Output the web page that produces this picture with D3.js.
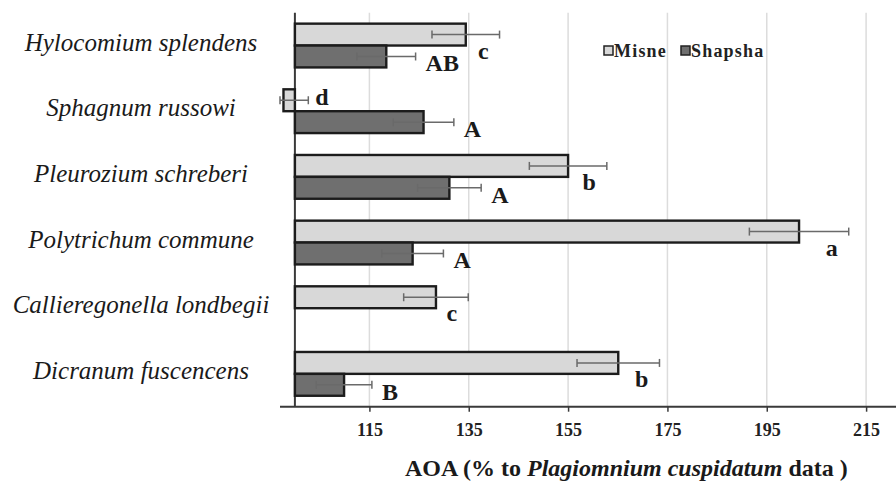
<!DOCTYPE html>
<html>
<head>
<meta charset="utf-8">
<script src="https://cdn.jsdelivr.net/npm/d3@7"></script>
<style>
  html, body { margin: 0; padding: 0; background: #fff; }
  svg { display: block; }
</style>
</head>
<body>
<svg id="chart" width="896" height="481"></svg>
<script>
// ---- data ----
const categories = [
  "Hylocomium splendens",
  "Sphagnum russowi",
  "Pleurozium schreberi",
  "Polytrichum commune",
  "Callieregonella londbegii",
  "Dicranum fuscencens"
];
const seriesNames = ["Misne", "Shapsha"];
const misneValues   = [134.4, 97.7, 155.0, 201.5, 128.4, 165.1];
const misneErrors   = [6.8, 5.0, 7.8, 10.0, 6.5, 8.3];
const misneLetters  = ["c", "d", "b", "a", "c", "b"];
const shapshaValues = [118.4, 125.9, 131.1, 123.7, null, 109.9];
const shapshaErrors = [5.9, 6.1, 6.4, 6.2, null, 5.6];
const shapshaLetters = ["AB", "A", "A", "A", "", "B"];
const tickValues = [115, 135, 155, 175, 195, 215];
const axisCross = 100;
const axisDomain = [97, 222];

// ---- layout ----
const svg = d3.select("#chart");
const plot = { left: 280, right: 896, top: 12.7, bottom: 406.7 };
const serif = "'Liberation Serif', 'Times New Roman', serif";

const x = d3.scaleLinear().domain(axisDomain).range([plot.left, plot.left + (axisDomain[1] - axisDomain[0]) * 4.967]);
const y = d3.scaleBand().domain(categories).range([plot.top, plot.bottom]).paddingInner(1/3).paddingOuter(1/6);
const ys = d3.scaleBand().domain(seriesNames).range([0, y.bandwidth()]);

const fills = { Misne: "#d8d8d8", Shapsha: "#6f6f6f" };

// gridlines
svg.append("g").selectAll("line").data(tickValues).join("line")
  .attr("x1", d => x(d)).attr("x2", d => x(d))
  .attr("y1", plot.top).attr("y2", plot.bottom)
  .attr("stroke", "#dcdcdc").attr("stroke-width", 1.5);

// x axis
const xAxis = d3.axisBottom(x).tickValues(tickValues).tickSize(5).tickFormat(d3.format("d"));
const gx = svg.append("g").attr("transform", `translate(0,${plot.bottom})`).call(xAxis);
gx.select(".domain").remove();
gx.append("line").attr("x1", plot.left).attr("x2", plot.right).attr("y1", 0).attr("y2", 0)
  .attr("stroke", "#3a3a3a").attr("stroke-width", 2);
gx.selectAll(".tick line").attr("stroke", "#3a3a3a").attr("stroke-width", 1.5);
gx.selectAll(".tick text")
  .attr("y", 29).attr("dy", 0)
  .attr("fill", "#222")
  .style("font-family", serif).style("font-weight", "bold").style("font-size", "18px");

// vertical axis at crossing value
svg.append("line")
  .attr("x1", x(axisCross)).attr("x2", x(axisCross))
  .attr("y1", plot.top).attr("y2", plot.bottom)
  .attr("stroke", "#3a3a3a").attr("stroke-width", 2);

// bars
const rows = [];
categories.forEach((c, i) => {
  rows.push({ cat: c, s: "Misne", v: misneValues[i], e: misneErrors[i], l: misneLetters[i] });
  if (shapshaValues[i] != null)
    rows.push({ cat: c, s: "Shapsha", v: shapshaValues[i], e: shapshaErrors[i], l: shapshaLetters[i] });
});

const barY = d => y(d.cat) + ys(d.s);
const bh = ys.bandwidth();

svg.append("g").selectAll("rect").data(rows).join("rect")
  .attr("x", d => Math.min(x(d.v), x(axisCross)))
  .attr("y", d => barY(d))
  .attr("width", d => Math.abs(x(d.v) - x(axisCross)))
  .attr("height", bh)
  .attr("fill", d => fills[d.s])
  .attr("stroke", "#1c1c1c").attr("stroke-width", 2.4);

// error bars
const eg = svg.append("g").attr("stroke", "#6a6a6a").attr("stroke-width", 1.5);
rows.forEach(d => {
  const cy = barY(d) + bh / 2;
  const lo = x(Math.max(d.v - d.e, axisDomain[0])), hi = x(d.v + d.e);
  eg.append("line").attr("x1", lo).attr("x2", hi).attr("y1", cy).attr("y2", cy);
  eg.append("line").attr("x1", lo).attr("x2", lo).attr("y1", cy - 4).attr("y2", cy + 4);
  eg.append("line").attr("x1", hi).attr("x2", hi).attr("y1", cy - 4).attr("y2", cy + 4);
});

// significance letters
svg.append("g").selectAll("text").data(rows.filter(d => d.l)).join("text")
  .attr("x", d => {
    const end = x(d.v + d.e);
    if (d.s === "Misne") return d.v < axisCross ? end + 7 : end - 11;
    return end + 10;
  })
  .attr("y", d => {
    const top = barY(d);
    if (d.s === "Misne") return d.v < axisCross ? top + bh / 2 + 5 : top + bh + 13;
    return top + bh + 4;
  })
  .attr("text-anchor", d => (d.s === "Misne" && d.v >= axisCross) ? "end" : "start")
  .attr("fill", "#1a1a1a")
  .style("font-family", serif).style("font-weight", "bold").style("font-size", "24px")
  .text(d => d.l);

// category labels
svg.append("g").selectAll("text").data(categories).join("text")
  .attr("x", 141)
  .attr("y", d => y(d) + y.bandwidth() / 2 + 5)
  .attr("text-anchor", "middle")
  .attr("fill", "#1a1a1a")
  .style("font-family", serif).style("font-style", "italic").style("font-size", "25px")
  .text(d => d);

// legend
const lg = svg.append("g").attr("transform", "translate(604,46)");
seriesNames.forEach((s, i) => {
  const ox = i === 0 ? 0 : 77;
  lg.append("rect").attr("x", ox).attr("y", 0).attr("width", 9).attr("height", 9)
    .attr("fill", fills[s]).attr("stroke", "#222").attr("stroke-width", 1.5);
  lg.append("text").attr("x", ox + 10).attr("y", 10.5)
    .attr("fill", "#222")
    .style("font-family", serif).style("font-weight", "bold").style("font-size", "18px")
    .style("letter-spacing", "1.2px")
    .text(s);
});

// x-axis title
const title = svg.append("text").attr("x", 405).attr("y", 476)
  .attr("fill", "#1a1a1a")
  .style("font-family", serif).style("font-weight", "bold").style("font-size", "24px");
title.append("tspan").text("AOA (% to ");
title.append("tspan").style("font-style", "italic").text("Plagiomnium cuspidatum");
title.append("tspan").text(" data )");
</script>
</body>
</html>
